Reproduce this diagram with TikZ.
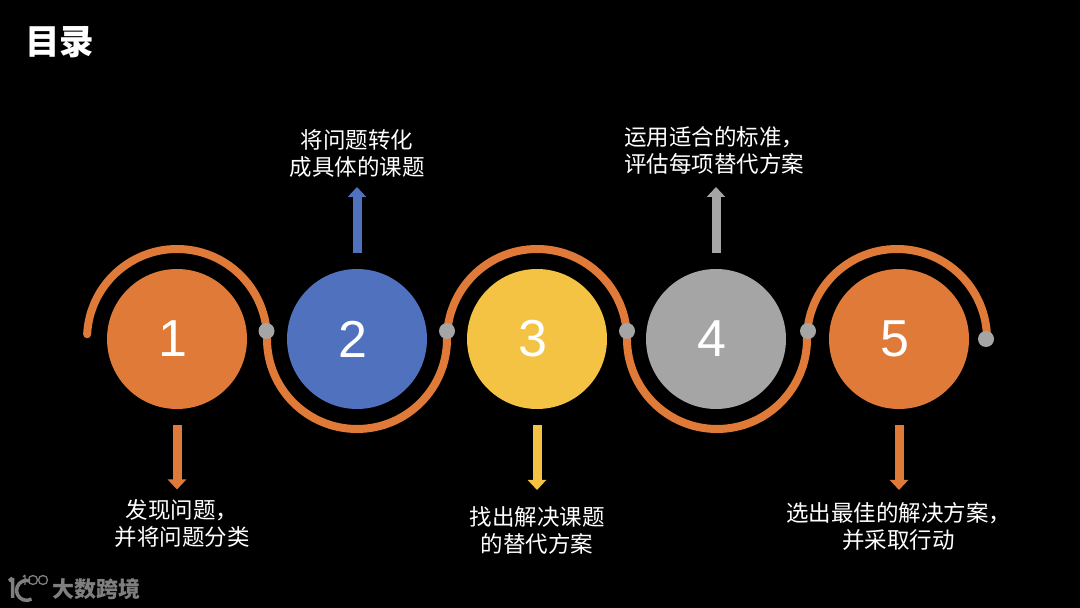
\documentclass[tikz,border=0pt]{standalone}
\usepackage{fontspec}
\setmainfont{Noto Sans CJK SC}
\setsansfont{Liberation Sans}
\usetikzlibrary{arrows.meta,positioning,calc}
\definecolor{orangec}{HTML}{DF7A38}
\definecolor{bluec}{HTML}{4F71BE}
\definecolor{yellowc}{HTML}{F4C343}
\definecolor{greyc}{HTML}{A5A5A5}
\definecolor{logoc}{HTML}{7F7F7F}
\tikzset{
	numbox/.style={circle, minimum size=140pt, inner sep=0pt, outer sep=0pt, text=white,
		font=\sffamily\fontsize{52}{52}\selectfont, execute at end node={\hspace{9pt}}},
	taskbox/.style={align=center, inner sep=0pt, outer sep=0pt, text=white,
		font=\fontsize{22.5}{27}\selectfont},
	dotmark/.style={circle, fill=greyc, minimum size=16pt, inner sep=0pt, outer sep=0pt},
	blockarr/.style={-{Triangle[length=10pt,width=18pt]}, line width=9pt, shorten <=16pt},
	ribbon/.style={draw=orangec, line width=8pt, line cap=round}
}

\begin{document}
\begin{tikzpicture}[x=1pt,y=1pt]
			\fill[black] (0,0) rectangle (1080,608);
			\node[anchor=west, inner sep=0pt, text=white, font=\fontsize{34.5}{34.5}\selectfont\bfseries] (title) at (25,566) {目录};
			\node[numbox, fill=orangec] (numa) at (177,269) {1};
			\node[numbox, fill=bluec, right=40pt of numa] (numb) {2};
			\node[numbox, fill=yellowc, right=40pt of numb] (numc) {3};
			\node[numbox, fill=greyc, right=39pt of numc] (numd) {4};
			\node[numbox, fill=orangec, right=43pt of numd] (nume) {5};
			\node[taskbox, below=91pt of numa, xshift=5pt] (taska) {发现问题，\\并将问题分类};
			\node[taskbox, above=92pt of numb] (taskb) {将问题转化\\成具体的课题};
			\node[taskbox, below=98pt of numc] (taskc) {找出解决课题\\的替代方案};
			\node[taskbox, above=94.5pt of numd, xshift=-2pt] (taskd) {运用适合的标准，\\评估每项替代方案};
			\node[taskbox, below=93.5pt of nume, xshift=-0.5pt] (taske) {选出最佳的解决方案，\\并采取行动};
			\coordinate (arcstart) at ($(numa)+(177:90pt)$);
			\draw[ribbon] (arcstart) arc[start angle=177, end angle=0, radius=90pt]
				arc[start angle=180, end angle=360, radius=90pt]
				arc[start angle=180, end angle=0, radius=90pt]
				arc[start angle=180, end angle=360, radius=90pt]
				arc[start angle=180, end angle=0, radius=90pt];
			\node[dotmark, right=11.5pt of numa, yshift=8pt] (dota) {};
			\node[dotmark, right=12pt of numb, yshift=8pt] (dotb) {};
			\node[dotmark, right=12pt of numc, yshift=8pt] (dotc) {};
			\node[dotmark, right=14pt of numd, yshift=8pt] (dotd) {};
			\node[dotmark, right=9pt of nume] (dote) {};
			\draw[blockarr, orangec, shorten >=10.5pt] (numa.south)--(numa.south |- taska.north);
			\draw[blockarr, bluec, shorten >=10pt] (numb.north)--(numb.north |- taskb.south);
			\draw[blockarr, yellowc, shorten >=17pt] (numc.south)--(numc.south |- taskc.north);
			\draw[blockarr, greyc, shorten >=12.5pt] (numd.north)--(numd.north |- taskd.south);
			\draw[blockarr, orangec, shorten >=12.5pt] (nume.south)--(nume.south |- taske.north);
			% logo
			\draw[logoc, line width=3.5pt] (12.5,30)--(12.5,10) (12.5,30)--(9,27);
			\draw[logoc, line width=3.5pt] (30,27) arc[start angle=70, end angle=300, radius=10pt];
			\draw[logoc, line width=1.3pt] (25,33)--(25,23) (25,33)--(23,31);
			\draw[logoc, line width=1.3pt] (33,28) circle[radius=4.5pt] (43,28) circle[radius=4.5pt];
			\node[anchor=west, inner sep=0pt, text=logoc, font=\fontsize{22}{22}\selectfont\bfseries] (brand) at (52,19) {大数跨境};
		\end{tikzpicture}
\end{document}
